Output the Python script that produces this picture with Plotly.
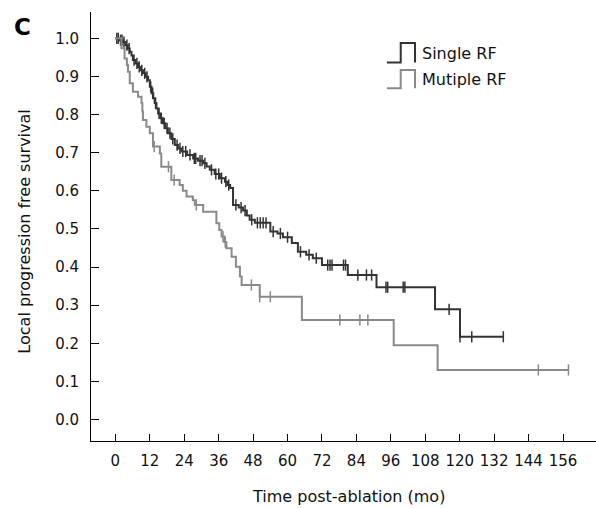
import numpy as np
import plotly.graph_objects as go

# ---- Data ----
single_t = [0, 1.5, 2.7, 3.5, 4.3, 5.0, 5.6, 6.1, 7.0, 7.9, 8.8, 9.6, 10.5, 11.4, 12.0, 12.6,
            13.2, 13.7, 14.3, 14.9, 15.7, 16.6, 17.4, 18.3, 19.5, 20.7, 21.8, 23.0, 25.0, 27.1,
            28.8, 30.6, 31.8, 32.9, 34.6, 36.4, 38.2, 39.0, 40.0, 41.0, 43.0, 44.5, 45.8, 46.8,
            48.6, 54.0, 56.5, 58.4, 61.5, 63.6, 66.5, 68.8, 72.0, 81.0, 91.0, 111.4, 120.1]
single_s = [1.0, 0.995, 0.99, 0.982, 0.973, 0.965, 0.955, 0.943, 0.934, 0.925, 0.916, 0.908,
            0.899, 0.89, 0.873, 0.856, 0.843, 0.83, 0.816, 0.803, 0.79, 0.777, 0.764, 0.751,
            0.736, 0.72, 0.711, 0.703, 0.694, 0.685, 0.679, 0.672, 0.664, 0.655, 0.644, 0.633,
            0.624, 0.615, 0.607, 0.563, 0.556, 0.548, 0.535, 0.524, 0.516, 0.493, 0.488, 0.478,
            0.463, 0.44, 0.432, 0.423, 0.405, 0.379, 0.347, 0.289, 0.217]
single_end = 135.2
single_cens = [0.5, 1.0, 1.8, 2.3, 3.0, 4.0, 4.8, 6.5, 7.5, 8.3, 9.2, 10.2, 11.0, 12.3, 13.0,
               14.0, 15.2, 16.0, 17.0, 18.0, 19.0, 20.0, 21.5, 22.5, 23.5, 24.5, 26.0, 27.5,
               28.0, 29.5, 30.2, 31.2, 33.5, 35.0, 36.0, 37.0, 38.5, 39.5, 42.0, 43.8, 45.2,
               47.5, 49.5, 50.5, 51.5, 52.5, 55.0, 57.5, 60.0, 64.5, 67.5, 70.0, 74.0, 74.8,
               75.5, 79.5, 80.2, 84.5, 87.5, 89.3, 94.3, 94.9, 100.3, 100.9, 116.3, 120.1,
               124.2, 135.2]

multi_t = [0, 2.1, 3.2, 4.0, 4.4, 5.0, 6.1, 7.9, 9.1, 9.4, 9.6, 10.8, 12.0, 13.1, 15.5, 16.0,
           19.5, 22.4, 23.5, 24.8, 27.0, 27.7, 30.6, 35.2, 36.2, 37.0, 38.0, 38.7, 40.5, 42.0,
           43.4, 44.0, 50.3, 65.0, 97.0, 112.3]
multi_s = [1.0, 0.974, 0.947, 0.93, 0.912, 0.882, 0.86, 0.847, 0.83, 0.808, 0.786, 0.768,
           0.751, 0.716, 0.698, 0.663, 0.628, 0.615, 0.60, 0.585, 0.575, 0.563, 0.545, 0.515,
           0.497, 0.48, 0.465, 0.449, 0.427, 0.401, 0.375, 0.353, 0.322, 0.261, 0.195, 0.13]
multi_end = 157.9
multi_cens = [13.5, 18.5, 20.5, 28.2, 37.5, 38.3, 47.4, 50.3, 54.0, 78.2, 85.2, 88.0,
              147.4, 157.9]

x_ticks = list(range(0, 157, 12))
y_ticks = [round(0.1 * i, 1) for i in range(11)]
y_tick_text = [f"{v:.1f}" for v in y_ticks]

series = [
    ("Single RF", single_t, single_s, single_end, single_cens, "#333333"),
    ("Mutiple RF", multi_t, multi_s, multi_end, multi_cens, "#8a8a8a"),
]

FONT = "DejaVu Sans"
fig = go.Figure()

def surv_at(t_arr, s_arr, t):
    t_arr = np.asarray(t_arr)
    idx = np.searchsorted(t_arr, t, side="right") - 1
    return np.asarray(s_arr)[idx]

for name, t, s, end, cens, col in series:
    xs = list(t) + [end]
    ys = list(s) + [s[-1]]
    fig.add_trace(go.Scatter(x=xs, y=ys, mode="lines", line=dict(shape="hv", color=col, width=2),
                             name=name, showlegend=False, hoverinfo="skip"))
    cy = surv_at(t, s, np.asarray(cens))
    fig.add_trace(go.Scatter(x=cens, y=cy, mode="markers",
                             marker=dict(symbol="line-ns", size=8, line=dict(color=col, width=1.5)),
                             showlegend=False, hoverinfo="skip"))

# custom legend (step icons)
shapes = []
legend_rows = [(0.928, 0.882, "#333333", "Single RF", 0.904),
               (0.865, 0.822, "#8a8a8a", "Mutiple RF", 0.8415)]
annotations = []
for top, bot, col, label, ty in legend_rows:
    x0, x1, x2 = 0.586, 0.6133, 0.6416
    path = f"M {x0},{bot} L {x1},{bot} L {x1},{top} L {x2},{top} L {x2},{bot}"
    shapes.append(dict(type="path", xref="paper", yref="paper", path=path,
                       line=dict(color=col, width=2)))
    annotations.append(dict(x=0.6515, y=ty, xref="paper", yref="paper", text=label,
                            showarrow=False, xanchor="left", yanchor="middle",
                            font=dict(family=FONT, size=16, color="#111111")))

annotations.append(dict(x=0.509, y=-0.1305, xref="paper", yref="paper",
                        text="Time post-ablation (mo)", showarrow=False,
                        xanchor="center", yanchor="middle",
                        font=dict(family=FONT, size=16, color="#111111")))
annotations.append(dict(x=-0.1307, y=0.488, xref="paper", yref="paper",
                        text="Local progression free survival", showarrow=False,
                        textangle=-90, xanchor="center", yanchor="middle",
                        font=dict(family=FONT, size=16, color="#111111")))
annotations.append(dict(x=-0.136, y=0.966, xref="paper", yref="paper", text="<b>C</b>",
                        showarrow=False, xanchor="center", yanchor="middle",
                        font=dict(family=FONT, size=23, color="#000000")))

fig.update_layout(
    width=596, height=508,
    margin=dict(l=91, r=0, t=12, b=67),
    paper_bgcolor="white", plot_bgcolor="white",
    shapes=shapes, annotations=annotations,
    font=dict(family=FONT, size=15, color="#111111"),
    xaxis=dict(range=[-8.5, 167.5], tickvals=x_ticks, ticks="inside", ticklen=7,
               tickcolor="black", showline=True, linecolor="black", linewidth=1,
               showgrid=False, zeroline=False, tickfont=dict(size=15),
               ticklabelstandoff=6),
    yaxis=dict(range=[-0.0564, 1.069], tickvals=y_ticks, ticktext=y_tick_text,
               ticks="inside", ticklen=8, tickcolor="black", showline=True,
               linecolor="black", linewidth=1, showgrid=False, zeroline=False,
               tickfont=dict(size=15), ticklabelstandoff=8),
)

fig.write_html("out.html", config={"displayModeBar": False},
               post_script="document.body.style.margin='0';document.body.style.padding='0';"
                           "document.documentElement.style.overflow='hidden';")
